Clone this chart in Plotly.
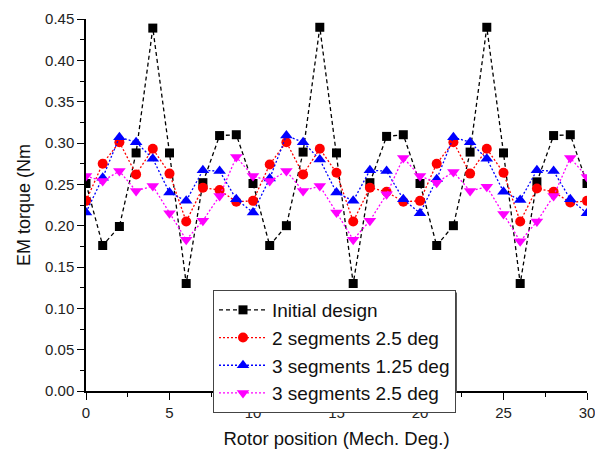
import plotly.graph_objects as go

# ---- data ----
rotor_position = list(range(31))

initial_design = [0.251, 0.176, 0.199, 0.288, 0.439, 0.288, 0.130, 0.252, 0.309, 0.310, 0.251,
                  0.176, 0.200, 0.289, 0.440, 0.288, 0.130, 0.252, 0.308, 0.310, 0.251,
                  0.176, 0.200, 0.289, 0.440, 0.288, 0.130, 0.253, 0.309, 0.310, 0.251]

seg2_25deg = [0.230, 0.275, 0.301, 0.262, 0.293, 0.263, 0.205, 0.246, 0.243, 0.229, 0.230,
              0.274, 0.301, 0.262, 0.293, 0.264, 0.205, 0.246, 0.241, 0.229, 0.230,
              0.275, 0.301, 0.263, 0.293, 0.264, 0.205, 0.245, 0.241, 0.228, 0.230]

seg3_125deg = [0.216, 0.258, 0.307, 0.301, 0.281, 0.240, 0.230, 0.267, 0.266, 0.232, 0.216,
               0.257, 0.309, 0.301, 0.280, 0.240, 0.230, 0.267, 0.266, 0.232, 0.215,
               0.256, 0.307, 0.301, 0.281, 0.241, 0.231, 0.267, 0.266, 0.232, 0.215]

seg3_25deg = [0.260, 0.254, 0.266, 0.242, 0.248, 0.215, 0.183, 0.206, 0.236, 0.283, 0.260,
              0.254, 0.266, 0.242, 0.248, 0.216, 0.183, 0.206, 0.238, 0.282, 0.260,
              0.252, 0.265, 0.242, 0.247, 0.214, 0.181, 0.205, 0.236, 0.282, 0.259]

series_names = ["Initial design", "2 segments 2.5 deg", "3 segments 1.25 deg", "3 segments 2.5 deg"]
x_ticks = [0, 5, 10, 15, 20, 25, 30]
y_ticks = [0.00, 0.05, 0.10, 0.15, 0.20, 0.25, 0.30, 0.35, 0.40, 0.45]

FONT = "Liberation Sans, Arial, sans-serif"

fig = go.Figure()

styles = [
    (initial_design, "#000000", "square", 9, "4px,3px"),
    (seg2_25deg, "#FF0000", "circle", 10, "2px,2px"),
    (seg3_125deg, "#0000FF", "triangle-up", 11, "2px,2px"),
    (seg3_25deg, "#FF00FF", "triangle-down", 11, "2px,2px"),
]

for name, (vals, col, sym, sz, dash) in zip(series_names, styles):
    fig.add_trace(go.Scatter(
        x=rotor_position, y=vals, name=name, mode="lines+markers",
        line=dict(color=col, width=1.3, dash=dash),
        marker=dict(color=col, symbol=sym, size=sz, line=dict(width=0)),
    ))

axis_common = dict(
    showline=True, linecolor="#000000", linewidth=1.5,
    ticks="outside", ticklen=7, tickwidth=1.3, tickcolor="#000000",
    showgrid=False, zeroline=False, mirror=False, automargin=False,
    tickfont=dict(family=FONT, size=15, color="#222222"),
    ticklabeloverflow="allow",
)

# legend drop shadow (paper coordinates of the plot area)
fig.add_shape(type="rect", xref="paper", yref="paper",
              x0=0.2595, x1=0.7405, y0=-0.0045, y1=0.265,
              fillcolor="#555555", line=dict(width=0), layer="above")

fig.update_layout(
    width=595, height=452, autosize=False,
    margin=dict(l=86, r=8, t=19, b=61),
    paper_bgcolor="white", plot_bgcolor="white",
    font=dict(family=FONT, color="#111111"),
    xaxis=dict(
        range=[0, 30], tickvals=x_ticks,
        minor=dict(dtick=2.5, ticks="outside", ticklen=4, tickwidth=1.2, tickcolor="#000000"),
        title=dict(text="Rotor position (Mech. Deg.)", font=dict(family=FONT, size=18.5), standoff=12),
        **axis_common,
    ),
    yaxis=dict(
        range=[0, 0.45], tickvals=y_ticks, tickformat=".2f",
        minor=dict(dtick=0.025, ticks="outside", ticklen=4, tickwidth=1.2, tickcolor="#000000"),
        title=dict(text="EM torque (Nm", font=dict(family=FONT, size=18), standoff=10),
        **axis_common,
    ),
    legend=dict(
        x=0.2535, y=0.2715, xanchor="left", yanchor="top",
        bgcolor="white", bordercolor="#444444", borderwidth=1,
        font=dict(family=FONT, size=19, color="#111111"),
        itemwidth=48, traceorder="normal", tracegroupgap=0,
    ),
)

fig.write_html("out.html")
